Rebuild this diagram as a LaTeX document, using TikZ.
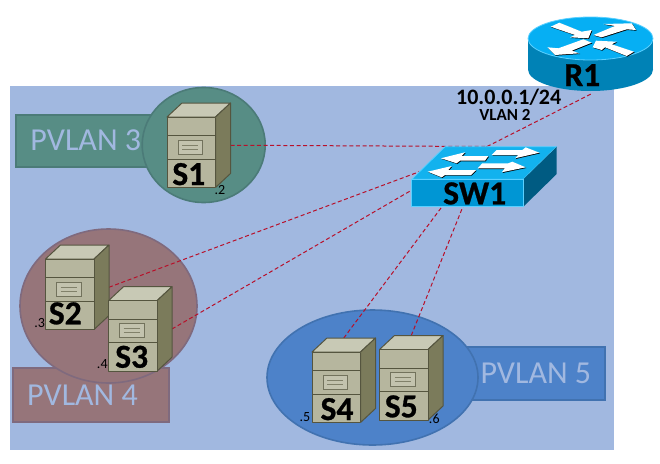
\documentclass[tikz,border=0pt]{standalone}
\usepackage{fontspec}
\setmainfont{Carlito}
\definecolor{bgblue}{HTML}{A1B8E0}
\definecolor{grnfill}{HTML}{578D85}
\definecolor{grnline}{HTML}{4B7B78}
\definecolor{pnkfill}{HTML}{96757A}
\definecolor{pnkline}{HTML}{7F6A7E}
\definecolor{blufill}{HTML}{4D82C9}
\definecolor{bluline}{HTML}{4172B0}
\definecolor{srvtop}{HTML}{C8C9B5}
\definecolor{srvfront}{HTML}{B6B69E}
\definecolor{srvside}{HTML}{7B7B5B}
\definecolor{srvline}{HTML}{55553F}
\definecolor{swtop}{HTML}{12B2EE}
\definecolor{swfront}{HTML}{0096D4}
\definecolor{swside}{HTML}{005B82}
\definecolor{swedge}{HTML}{5BD0FF}
\definecolor{rttop}{HTML}{06AFF3}
\definecolor{rtbody}{HTML}{0082B6}
\definecolor{linkred}{HTML}{B8102A}
\newfontfamily\heavyfont[FakeBold=0.8]{Carlito Bold}
\tikzset{
  x=1pt,y=-1pt,
  devbox/.style={inner sep=0pt,outer sep=0pt,minimum width=63.5pt,minimum height=84.5pt},
  vlanrect/.style={line width=2pt},
  vlanzone/.style={line width=1.6pt},
  vlantext/.style={font=\fontsize{32}{32}\selectfont,text=bgblue,anchor=base,inner sep=0pt},
  devtext/.style={font=\heavyfont\fontsize{33.5}{33.5}\selectfont,text=black,anchor=base,inner sep=0pt},
  iptext/.style={font=\fontsize{14}{14}\selectfont,text=black,anchor=base,inner sep=0pt},
  link/.style={draw=linkred,line width=1pt,dash pattern=on 4pt off 2.6pt},
  srvface/.style={draw=srvline,line width=1pt,line join=round},
  arrowwhite/.style={fill=white},
  arrowshade/.style={fill=black},
}
\newcommand{\srvbox}[3]{\node[devbox] (#1) at ({#2+31.75},{#3+28.25}) {};}
\newcommand{\srvart}[2]{%
  \begin{scope}[shift={(#1,#2)}]
    \path[srvface,fill=srvtop] (0,0) -- (15,-14) -- (63.5,-14) -- (48.5,0) -- cycle;
    \path[srvface,fill=srvside] (48.5,0) -- (63.5,-14) -- (63.5,56.5) -- (48.5,70.5) -- cycle;
    \path[srvface,fill=srvfront] (0,0) rectangle (48.5,70.5);
    \draw[srvline,line width=.8pt] (0,18.5) -- (48.5,18.5) (0,42) -- (48.5,42);
    \path[draw=srvline!70!srvfront,fill=srvtop!70!srvfront,line width=.9pt] (11,23) rectangle (35.5,37);
    \draw[srvline!55!srvfront,line width=.7pt] (15,28) -- (31,28) (15,32) -- (31,32);
  \end{scope}}
\newcommand{\arr}[1]{%
  \path[arrowshade,shift={(.7,.7)}] #1 -- cycle;
  \path[arrowwhite] #1 -- cycle;}
\begin{document}
\begin{tikzpicture}
\useasboundingbox (0,0) rectangle (660,463);
\fill[white] (0,0) rectangle (660,463);
\fill[bgblue] (10,86) rectangle (614,450);
% VLAN labels
\path[vlanrect,draw=grnline,fill=grnfill] (15.5,114.5) rectangle (170,167);
\node[vlantext] (P3) at (85.8,150.7) {PVLAN 3};
\path[vlanrect,draw=pnkline,fill=pnkfill] (12.5,367.5) rectangle (169,421.5);
\node[vlantext] (P4) at (82.5,405) {PVLAN 4};
\path[vlanrect,draw=bluline,fill=blufill] (450,347) rectangle (605,400);
\node[vlantext] (P5) at (535.8,383.3) {PVLAN 5};
% zones
\path[vlanzone,draw=grnline,fill=grnfill] (203.7,145) ellipse [x radius=61.5pt,y radius=57.5pt];
\path[vlanzone,draw=pnkline,fill=pnkfill] (108.5,306) ellipse [x radius=88.5pt,y radius=77pt];
\path[vlanzone,draw=bluline,fill=blufill] (372.5,377.5) ellipse [x radius=105.5pt,y radius=67.5pt];
% device frames, for the connectors
\srvbox{S1}{167}{117}
\srvbox{S2}{45.5}{259}
\srvbox{S3}{108.5}{300.7}
\srvbox{S4}{312}{352}
\srvbox{S5}{379.5}{349.5}
\node[inner sep=0pt,outer sep=0pt,minimum width=150pt,minimum height=60pt] (SW1) at (487,176.5) {};
\node[inner sep=0pt,outer sep=0pt,minimum width=130pt,minimum height=76pt] (R1) at (593,55) {};
% connectors
\draw[link] (S1.east) -- (SW1.north);
\draw[link] (S2.east) -- (SW1.north);
\draw[link] (S3.east) -- (SW1.north);
\draw[link] (S4.north) -- (SW1.north);
\draw[link] (S5.north) -- (SW1.north);
\draw[link] (SW1.north) -- (R1.south);
% servers
\srvart{167}{117}
\srvart{45.5}{259}
\srvart{108.5}{300.7}
\srvart{312}{352}
\srvart{379.5}{349.5}
% switch
\path[fill=swtop,draw=swedge,line width=.8pt,line join=round] (411.7,179.3) -- (445,146.7) -- (556.7,146.7) -- (523.3,179.3) -- cycle;
\path[fill=swside] (523.3,179.3) -- (556.7,146.7) -- (556.7,174) -- (523.3,206.7) -- cycle;
\path[fill=swfront,draw=swedge,line width=.8pt] (411.7,179.3) rectangle (523.3,206.7);
\arr{(441,158.3) -- (465,152.3) -- (461.7,156) -- (488.3,156) -- (485,160.7) -- (460,160.7) -- (456.7,163.3)}
\arr{(539.3,152.7) -- (525.7,147.3) -- (522.3,150) -- (496.7,150) -- (491.7,155) -- (518.3,155) -- (515,158.3)}
\arr{(427.7,171.7) -- (451.7,166) -- (448.3,170) -- (476,170) -- (471,175) -- (445,175) -- (441.7,177.3)}
\arr{(525.7,167.3) -- (512.3,161.7) -- (508.3,163.3) -- (482.3,163.3) -- (477.7,168.3) -- (505,168.3) -- (501.7,172.3)}
% router
\fill[rtbody] (528,38.5) rectangle (653,69.5);
\fill[rtbody] (590.5,69.5) ellipse [x radius=62.5pt,y radius=21.5pt];
\path[fill=rttop,draw=swedge,line width=.8pt] (590.5,38.5) ellipse [x radius=62.5pt,y radius=21.5pt];
\arr{(559.3,22.7) -- (581.7,31.7) -- (591.7,30) -- (588.3,38.3) -- (570,37.3) -- (575,35) -- (550.7,26.7)}
\arr{(593.3,35) -- (615,26) -- (603.3,24) -- (631.7,23.3) -- (636,30) -- (626.7,29.3) -- (601.7,37.3)}
\arr{(583.3,39.3) -- (591.7,42.7) -- (571.7,50.7) -- (579.3,53.3) -- (555,55) -- (547.3,47.3) -- (558.3,48.3)}
\arr{(592.7,47.3) -- (596,40.7) -- (616.7,41.7) -- (611.7,44.3) -- (634,51.7) -- (626.7,56) -- (605,47.3) -- (601.7,50)}
% texts
\node[devtext] (S1t) at (188.8,185) {S1};
\node[devtext] (S2t) at (65.3,324.3) {S2};
\node[devtext] (S3t) at (131.7,367.7) {S3};
\node[devtext] (S4t) at (337,420) {S4};
\node[devtext] (S5t) at (401.3,417.3) {S5};
\node[devtext] (SW1t) at (474.7,204.3) {SW1};
\node[devtext] (R1t) at (582.3,86) {R1};
\node[iptext] (ip2) at (220,194) {.2};
\node[iptext] (ip3) at (39.7,327.7) {.3};
\node[iptext] (ip4) at (102.3,368.3) {.4};
\node[iptext] (ip5) at (305,421.7) {.5};
\node[iptext] (ip6) at (434.3,423.3) {.6};
\node[devtext,font=\fontsize{22}{22}\selectfont\bfseries] (addr) at (508.7,104) {10.0.0.1/24};
\node[devtext,font=\fontsize{17}{17}\selectfont\bfseries] (vlan) at (505,120) {VLAN 2};
\end{tikzpicture}
\end{document}
